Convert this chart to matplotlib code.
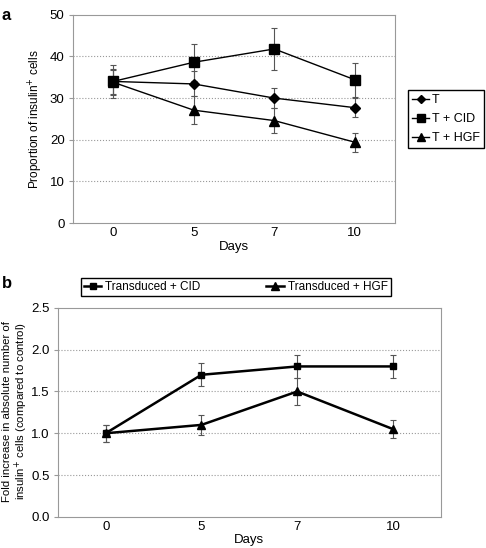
import matplotlib.pyplot as plt
from matplotlib.lines import Line2D
import numpy as np

# ---- data ----
days = ["0", "5", "7", "10"]

a_T = [34.0, 33.4, 30.0, 27.7]
a_T_err = [3.0, 3.0, 2.4, 2.3]
a_CID = [34.0, 38.6, 41.8, 34.4]
a_CID_err = [4.0, 4.5, 5.0, 4.1]
a_HGF = [33.8, 27.1, 24.6, 19.4]
a_HGF_err = [3.0, 3.4, 3.0, 2.3]

b_CID = [1.0, 1.7, 1.8, 1.8]
b_CID_err = [0.1, 0.14, 0.14, 0.14]
b_HGF = [1.0, 1.1, 1.5, 1.05]
b_HGF_err = [0.1, 0.12, 0.16, 0.11]

plt.rcParams['font.family'] = ['Liberation Sans', 'DejaVu Sans']
plt.rcParams['font.size'] = 9.5

fig = plt.figure(figsize=(4.86, 5.48), dpi=100)
x = np.arange(len(days))


def style_axes(ax, ymax, step, fmt):
    ax.set_xlim(-0.5, len(days) - 0.5)
    ax.set_ylim(0, ymax)
    yt = np.arange(0, ymax + step / 2, step)
    ax.set_yticks(yt)
    ax.set_yticklabels([fmt.format(v) for v in yt])
    ax.set_xticks(x)
    ax.set_xticklabels(days)
    for s in ax.spines.values():
        s.set_color('#999999')
        s.set_linewidth(0.8)
    ax.tick_params(axis='x', length=0, pad=3)
    ax.tick_params(axis='y', length=3, color='#999999', pad=3)
    for v in yt[1:-1]:
        ax.axhline(v, color='#999999', linestyle=':', linewidth=0.8, zorder=0)
    ax.set_xlabel("Days", labelpad=1)


eb = dict(ecolor='#555555', elinewidth=0.8, capsize=2, capthick=0.8)

# ---- panel a ----
ax1 = fig.add_axes([0.150, 0.593, 0.663, 0.380])
ax1.errorbar(x, a_T, yerr=a_T_err, color='black', lw=1, marker='D', ms=5, **eb)
ax1.errorbar(x, a_CID, yerr=a_CID_err, color='black', lw=1, marker='s', ms=7, **eb)
ax1.errorbar(x, a_HGF, yerr=a_HGF_err, color='black', lw=1, marker='^', ms=7, **eb)
style_axes(ax1, 50, 10, "{:.0f}")
ax1.set_ylabel("Proportion of insulin$^{+}$ cells", fontsize=8.5)
ax1.yaxis.set_label_coords(-0.087, 0.5)
h_a = [Line2D([], [], color='black', lw=1, marker='D', ms=4.5),
       Line2D([], [], color='black', lw=1, marker='s', ms=6),
       Line2D([], [], color='black', lw=1, marker='^', ms=6)]
ax1.legend(h_a, ['T', 'T + CID', 'T + HGF'], loc='center left', fontsize=9,
           bbox_to_anchor=(1.04, 0.5), frameon=True, fancybox=False, framealpha=1,
           edgecolor='black', handlelength=1.3, handletextpad=0.25, borderpad=0.35,
           labelspacing=0.56, borderaxespad=0)

# ---- panel b ----
ax2 = fig.add_axes([0.119, 0.057, 0.788, 0.381])
ax2.errorbar(x, b_CID, yerr=b_CID_err, color='black', lw=1.8, marker='s', ms=5, **eb)
ax2.errorbar(x, b_HGF, yerr=b_HGF_err, color='black', lw=1.8, marker='^', ms=6, **eb)
style_axes(ax2, 2.5, 0.5, "{:.1f}")
# two-line y label, placed line by line
fig.text(7 / 486, 1 - 411 / 548, "Fold increase in absolute number of", fontsize=8.2,
         rotation=90, ha='center', va='center')
fig.text(21 / 486, 1 - 411 / 548, "insulin$^{+}$ cells (compared to control)", fontsize=8.2,
         rotation=90, ha='center', va='center')
h_b = [Line2D([], [], color='black', lw=1.8, marker='s', ms=4.5),
       Line2D([], [], color='black', lw=1.8, marker='^', ms=5.5)]
ax2.legend(h_b, ['Transduced + CID', 'Transduced + HGF'], loc='lower left', fontsize=8.5,
           bbox_to_anchor=(0.06, 1.057), ncol=2, frameon=True, fancybox=False,
           framealpha=1, edgecolor='black', handlelength=1.5, handletextpad=0.3,
           borderpad=0.25, columnspacing=5.6, borderaxespad=0)

fig.text(0.004, 0.972, "a", fontsize=12, fontweight='bold', va='center')
fig.text(0.004, 0.483, "b", fontsize=12, fontweight='bold', va='center')

fig.savefig("out.png", dpi=100)
